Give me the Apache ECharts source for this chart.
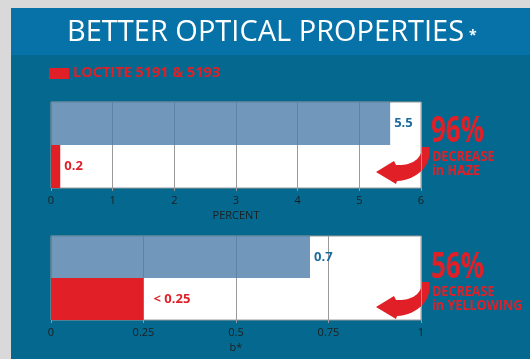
<!DOCTYPE html>
<html><head><meta charset="utf-8">
<script src="https://cdn.jsdelivr.net/npm/echarts@6/dist/echarts.min.js"></script>
<style>html,body{margin:0;padding:0;background:#d9d9d9}#c{width:530px;height:359px}</style>
</head><body><div id="c"></div>
<script>
const categories = ['Standard', 'LOCTITE 5191 & 5193'];
const hazeValues = [5.5, 0.15];
const hazeLabels = ['5.5', '0.2'];
const hazeTicks = ['0', '1', '2', '3', '4', '5', '6'];
const yellowValues = [0.7, 0.25];
const yellowLabels = ['0.7', '< 0.25'];
const yellowTicks = ['0', '0.25', '0.5', '0.75', '1'];

const RED = '#e01f26', GRAYBAR = 'rgba(78,126,169,0.8)', BLUE_TXT = '#1b6c9c';
const FONT = '"Open Sans", sans-serif';

echarts.graphic.registerShape('curveArrow', echarts.graphic.extendShape({
  shape: { dy: 0 },
  buildPath: function (ctx, shape) {
    const d = shape.dy;
    ctx.moveTo(429, 147 + d);
    ctx.bezierCurveTo(433, 164 + d, 418, 180 + d, 397, 181 + d);
    ctx.lineTo(396, 184 + d);
    ctx.lineTo(376, 172 + d);
    ctx.lineTo(394, 161 + d);
    ctx.lineTo(396, 165 + d);
    ctx.bezierCurveTo(410, 166 + d, 422, 160 + d, 422, 147 + d);
    ctx.closePath();
  }
}));

function items(vals, labels) {
  return vals.map((v, i) => ({
    value: v,
    itemStyle: { color: i === 0 ? GRAYBAR : RED },
    label: {
      show: true, position: 'right', distance: labels[i].startsWith('<') ? 10 : 4,
      formatter: labels[i], fontFamily: FONT, fontWeight: 'bold', fontSize: 13,
      color: i === 0 ? BLUE_TXT : RED
    }
  }));
}
function xAx(gi, max, interval, name) {
  return {
    gridIndex: gi, type: 'value', min: 0, max: max, interval: interval,
    name: name, nameLocation: 'middle', nameGap: 22,
    nameTextStyle: { color: '#1e1e1e', fontFamily: FONT, fontSize: 11 },
    axisLine: { show: false },
    axisTick: { show: true, length: 3, lineStyle: { color: '#999' } },
    axisLabel: { color: '#1e1e1e', fontFamily: FONT, fontSize: 11, margin: 7,
      formatter: function (v) { return String(+v.toFixed(2)); } },
    splitLine: { show: true, lineStyle: { color: '#9a9a9a', width: 1 } }
  };
}
function yAx(gi) {
  return { gridIndex: gi, type: 'category', data: categories, inverse: true,
    axisLine: { show: false }, axisTick: { show: false }, axisLabel: { show: false }, splitLine: { show: false } };
}

const chart = echarts.init(document.getElementById('c'));
chart.setOption({
  animation: false,
  backgroundColor: '#d9d9d9',
  grid: [
    { left: 51, right: 109, top: 102, height: 86, show: true, backgroundColor: '#fff', borderColor: '#9a9a9a', borderWidth: 1 },
    { left: 51, right: 109, top: 236, height: 84, show: true, backgroundColor: '#fff', borderColor: '#9a9a9a', borderWidth: 1 }
  ],
  xAxis: [xAx(0, 6, 1, 'PERCENT'), xAx(1, 1, 0.25, 'b*')],
  yAxis: [yAx(0), yAx(1)],
  series: [
    { type: 'bar', xAxisIndex: 0, yAxisIndex: 0, barWidth: '100%', data: items(hazeValues, hazeLabels) },
    { type: 'bar', xAxisIndex: 1, yAxisIndex: 1, barWidth: '100%', data: items(yellowValues, yellowLabels) }
  ],
  graphic: [
    { type: 'rect', z: -10, silent: true, shape: { x: 11, y: 55, width: 519, height: 304 }, style: { fill: '#05698f' } },
    { type: 'rect', z: -10, silent: true, shape: { x: 11, y: 8, width: 519, height: 47 }, style: { fill: '#0672a8' } },
    { type: 'text', x: 67, y: 18, style: { text: 'BETTER OPTICAL PROPERTIES', fill: '#fff', font: '500 29px ' + FONT } },
    { type: 'text', x: 469, y: 29, style: { text: '*', fill: '#fff', font: 'bold 14px ' + FONT } },
    { type: 'rect', shape: { x: 49, y: 68, width: 20, height: 11 }, style: { fill: RED } },
    { type: 'text', x: 73, y: 65, style: { text: 'LOCTITE 5191 & 5193', fill: RED, font: 'bold 14.5px ' + FONT } },
    { type: 'text', x: 431, y: 114, scaleX: 0.72, style: { text: '96%', fill: RED, font: 'bold 36px ' + FONT } },
    { type: 'text', x: 432, y: 150, scaleX: 0.9, style: { text: 'DECREASE\nin HAZE', fill: RED, font: 'bold 14px ' + FONT, lineHeight: 14 } },
    { type: 'text', x: 431, y: 250, scaleX: 0.72, style: { text: '56%', fill: RED, font: 'bold 36px ' + FONT } },
    { type: 'text', x: 432, y: 285, scaleX: 0.9, style: { text: 'DECREASE\nin YELLOWING', fill: RED, font: 'bold 14px ' + FONT, lineHeight: 14 } },
    { type: 'curveArrow', shape: { dy: 0 }, style: { fill: RED } },
    { type: 'curveArrow', shape: { dy: 135 }, style: { fill: RED } }
  ]
});
</script></body></html>
